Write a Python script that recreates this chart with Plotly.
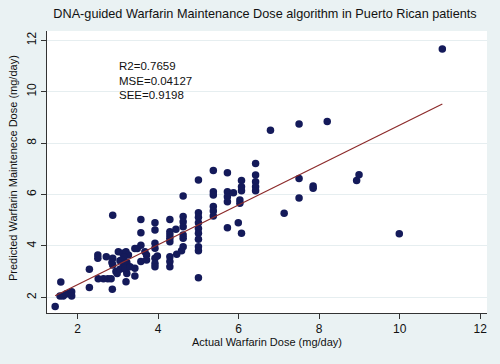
import plotly.graph_objects as go

# Actual dose (x) and predicted dose (y)
actual = [1.44, 1.58, 1.56, 1.64, 1.71, 1.79, 1.85, 1.85,
          2.29, 2.29, 2.50, 2.50, 2.51, 2.64, 2.75, 2.83, 2.71,
          2.87, 2.87, 2.85, 2.87, 2.86, 2.95, 2.98,
          3.01, 3.12, 3.20, 3.26, 3.05, 3.13, 3.20, 3.20, 3.05, 3.22, 3.22,
          3.15, 3.09, 3.17, 3.17, 3.30,
          3.42, 3.42, 3.42, 3.48,
          3.57, 3.57, 3.57, 3.57, 3.67, 3.71, 3.71,
          3.92, 3.92, 3.92, 3.92, 3.92, 3.92, 3.92, 3.98,
          4.29, 4.29, 4.29, 4.29, 4.29, 4.29, 4.29, 4.29,
          4.44, 4.46, 4.58,
          4.62, 4.62, 4.62, 4.62, 4.62, 4.62, 4.62,
          5.00, 5.00, 5.00, 5.00, 5.00, 5.00, 5.00, 5.00, 5.00, 5.00,
          5.37, 5.37, 5.37, 5.37, 5.37, 5.37,
          5.72, 5.72, 5.72, 5.72, 5.72, 5.87,
          6.07, 6.07, 6.07, 6.03, 6.03, 5.99, 6.07,
          6.42, 6.42, 6.42, 6.42, 6.42,
          6.79, 7.13, 7.50, 7.50, 7.50, 7.85, 7.85, 8.20,
          8.93, 8.99, 9.99, 11.06]
predicted = [1.64, 2.60, 2.05, 2.05, 2.13, 2.16, 2.22, 2.05,
             3.09, 2.38, 3.65, 3.52, 2.72, 2.72, 2.72, 2.72, 3.58,
             5.19, 3.52, 3.35, 3.26, 2.31, 3.00, 2.93,
             3.77, 3.71, 3.77, 3.65, 3.09, 3.19, 3.06, 2.61, 3.42, 3.35, 2.93,
             3.58, 3.45, 3.32, 3.13, 3.19,
             3.13, 2.83, 3.90, 3.90,
             5.03, 4.51, 4.03, 3.39, 3.77, 3.65, 3.45,
             4.90, 4.62, 4.10, 3.91, 3.52, 3.32, 3.19, 3.61,
             5.03, 4.55, 4.42, 4.30, 4.16, 3.58, 3.19, 3.39,
             4.65, 3.68, 3.81,
             5.94, 5.14, 4.94, 4.75, 4.42, 4.30, 3.97,
             6.56, 5.29, 5.11, 4.90, 4.68, 4.49, 4.26, 3.97, 3.81, 2.76,
             6.93, 6.11, 5.98, 5.53, 5.36, 5.16,
             6.85, 6.11, 5.91, 5.72, 4.71, 6.07,
             6.54, 6.30, 6.15, 5.79, 5.66, 4.90, 4.49,
             7.21, 6.76, 6.50, 6.30, 6.15,
             8.50, 5.27, 8.74, 6.62, 5.86, 6.33, 6.24, 8.84,
             6.54, 6.77, 4.47, 11.66]

# Fitted line end points
fit_x = [1.44, 11.06]
fit_y = [2.06, 9.52]

x_ticks = [2, 4, 6, 8, 10, 12]
y_ticks = [2, 4, 6, 8, 10, 12]
stats_lines = ["R2=0.7659", "MSE=0.04127", "SEE=0.9198"]

FONT = "Liberation Sans, Arial, sans-serif"
W, H = 500, 364
BG = "#eaf2f3"

fig = go.Figure()
fig.add_trace(go.Scatter(x=actual, y=predicted, mode="markers",
                         marker=dict(size=7.5, color="#141a5a", line=dict(width=0)),
                         showlegend=False, hoverinfo="x+y"))
fig.add_trace(go.Scatter(x=fit_x, y=fit_y, mode="lines",
                         line=dict(color="#8c2a2a", width=1.2),
                         showlegend=False))

for i, t in enumerate(stats_lines):
    fig.add_annotation(text=t, xref="paper", yref="paper",
                       x=0.158, y=[0.876, 0.823, 0.773][i],
                       xanchor="left", yanchor="middle", showarrow=False,
                       font=dict(family=FONT, size=11.5, color="#111"))

# axis titles placed as paper annotations
fig.add_annotation(text="Actual Warfarin Dose (mg/day)", xref="paper", yref="paper",
                   x=(266.5 - 47) / 440, y=(313 - 342) / 282, xanchor="center",
                   yanchor="middle", showarrow=False,
                   font=dict(family=FONT, size=11, color="#111"))
fig.add_annotation(text="Predicted Warfarin Maintenece Dose (mg/day)", xref="paper",
                   yref="paper", x=(13 - 47) / 440, y=(313 - 168) / 282,
                   xanchor="center", yanchor="middle", textangle=-90, showarrow=False,
                   font=dict(family=FONT, size=11, color="#111"))

fig.update_layout(
    width=W, height=H,
    margin=dict(l=47, r=13, t=31, b=51, autoexpand=False),
    paper_bgcolor=BG,
    plot_bgcolor="white",
    title=dict(text="DNA-guided Warfarin Maintenance Dose algorithm in Puerto Rican patients",
               x=0.53, xanchor="center", y=1 - 14 / H, yanchor="middle",
               font=dict(family=FONT, size=12.7, color="#111")),
    font=dict(family=FONT, color="#111"),
)
fig.update_xaxes(range=[1.237, 12.17], tickvals=x_ticks, ticks="outside",
                 ticklen=5, tickcolor="#333", showgrid=False, zeroline=False,
                 showline=True, linecolor="#333", linewidth=1, automargin=False,
                 tickfont=dict(family=FONT, size=12, color="#111"))
fig.update_yaxes(range=[1.39, 12.36], tickvals=y_ticks, ticks="outside",
                 ticklen=5, tickcolor="#333", showgrid=True, gridcolor="#e6eef0",
                 gridwidth=1, zeroline=False, tickangle=-90, automargin=False,
                 showline=True, linecolor="#333", linewidth=1,
                 tickfont=dict(family=FONT, size=12, color="#111"))

fig.write_html("out.html",
               config={"displayModeBar": False},
               post_script="document.body.style.margin='0';"
                           "document.body.style.background='" + BG + "';")
